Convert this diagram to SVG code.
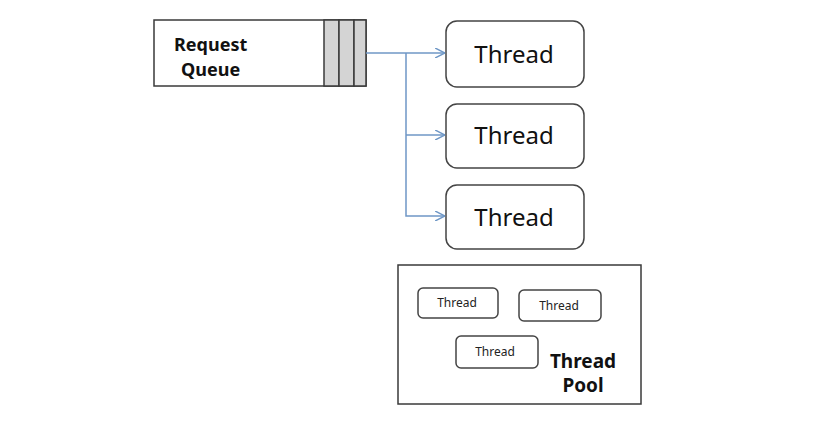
<svg xmlns="http://www.w3.org/2000/svg" width="831" height="423" viewBox="0 0 831 423">
<defs>
<style>
.box{fill:#fff;stroke:#3a3a3a;stroke-width:1.5}
.th{fill:#fff;stroke:#444;stroke-width:1.5}
.cell{fill:#d4d4d4;stroke:#3a3a3a;stroke-width:1.5}
.big{font-family:"Noto Sans","Open Sans",sans-serif;font-size:24px;fill:#111;text-anchor:middle}
.small{font-family:"Noto Sans","Open Sans",sans-serif;font-size:12px;fill:#222;text-anchor:middle}
.bold{font-family:"Noto Sans","Open Sans",sans-serif;font-weight:bold;fill:#111}
.conn{fill:none;stroke:#6f97c6;stroke-width:1.5}
</style>
<marker id="arr" viewBox="0 0 10 10" refX="10" refY="5" markerWidth="10" markerHeight="10" markerUnits="userSpaceOnUse" orient="auto">
<path d="M0,0 L10,5 L0,10" fill="none" stroke="#6f97c6" stroke-width="1.5"/>
</marker>
</defs>
<rect width="831" height="423" fill="#fff"/>
<g id="queue">
<rect class="box" x="154" y="20" width="212" height="66"/>
<rect class="cell" x="324" y="20" width="15" height="66"/>
<rect class="cell" x="339" y="20" width="15" height="66"/>
<rect class="cell" x="354" y="20" width="12" height="66"/>
<text class="bold" x="174" y="51" font-size="18">Request</text>
<text class="bold" x="181" y="76" font-size="18">Queue</text>
</g>
<g id="connectors">
<path class="conn" d="M366,53 H445" marker-end="url(#arr)"/>
<path class="conn" d="M406,53 V216 H445" marker-end="url(#arr)"/>
<path class="conn" d="M406,135 H445" marker-end="url(#arr)"/>
</g>
<g id="thread1">
<rect class="th" x="446" y="21" width="138" height="66" rx="11"/>
<text class="big" x="514" y="63">Thread</text>
</g>
<g id="thread2">
<rect class="th" x="446" y="104" width="138" height="64" rx="11"/>
<text class="big" x="514" y="144">Thread</text>
</g>
<g id="thread3">
<rect class="th" x="446" y="185" width="138" height="64" rx="11"/>
<text class="big" x="514" y="226">Thread</text>
</g>
<g id="pool">
<rect class="box" x="398" y="265" width="243" height="139"/>
<rect class="th" x="418" y="288" width="80" height="30" rx="5"/>
<text class="small" x="457" y="307">Thread</text>
<rect class="th" x="519" y="290" width="82" height="31" rx="5"/>
<text class="small" x="559" y="310">Thread</text>
<rect class="th" x="456" y="336" width="82" height="32" rx="5"/>
<text class="small" x="495" y="356">Thread</text>
<text class="bold" x="583" y="368" font-size="19" text-anchor="middle">Thread</text>
<text class="bold" x="583" y="392" font-size="19" text-anchor="middle">Pool</text>
</g>
</svg>
